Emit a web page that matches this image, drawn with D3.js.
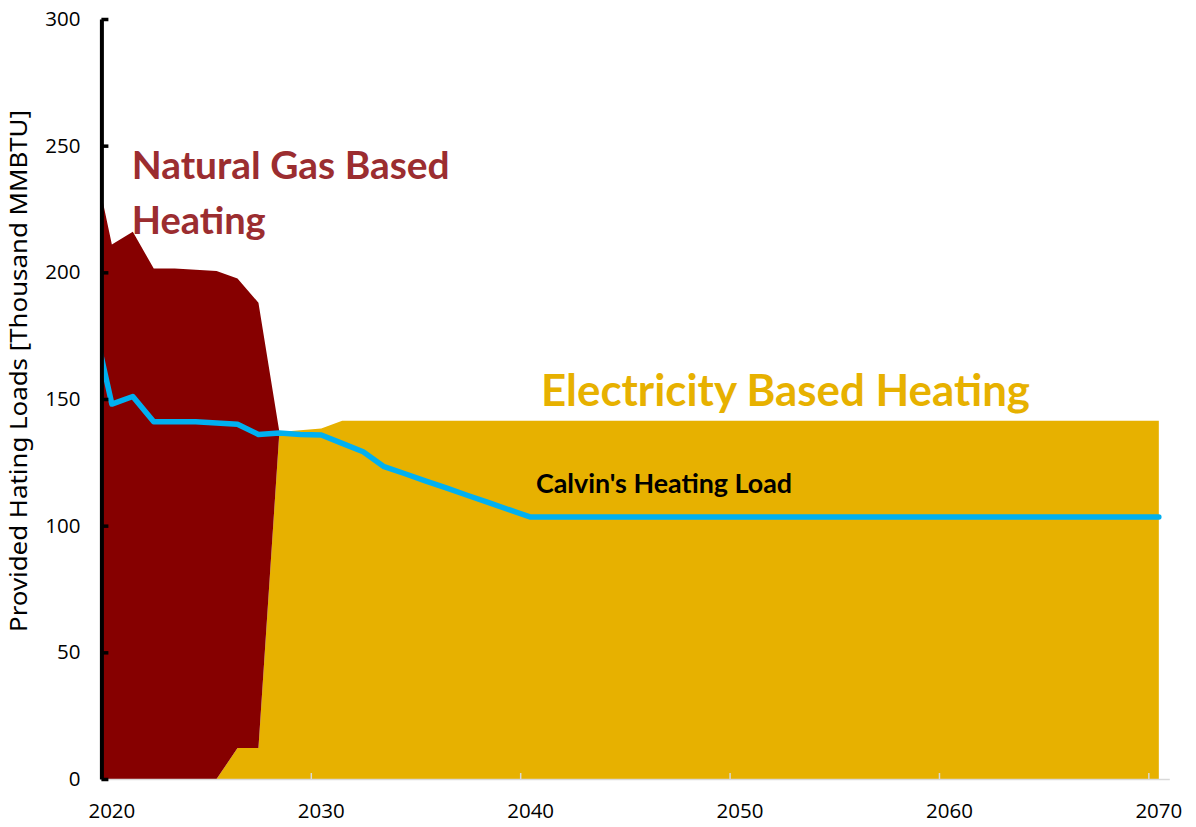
<!DOCTYPE html>
<meta charset="utf-8">
<style>
html, body { margin: 0; background: #fff; }
.axis text { font-family: "Open Sans", "Noto Sans", sans-serif; font-size: 20.5px; fill: #000; }
.label { font-family: Lato, "Open Sans", sans-serif; font-weight: bold; }
</style>
<div id="container"></div>
<script src="https://cdn.jsdelivr.net/npm/d3@7"></script>
<script>

// one value per year, 2019..2070 (2019 sits left of the plot and gets clipped)
var years = d3.range(2019, 2071);

var gasHeating = [250, 211, 216, 201.5, 201.5, 201, 200.5, 185.4, 175.8,
  0, 0, 0, 0, 0, 0, 0, 0, 0, 0,
  0, 0, 0, 0, 0, 0, 0, 0, 0, 0,
  0, 0, 0, 0, 0, 0, 0, 0, 0, 0,
  0, 0, 0, 0, 0, 0, 0, 0, 0, 0,
  0, 0, 0];

var electricHeating = [0, 0, 0, 0, 0, 0, 0, 12.2, 12.2, 137, 137.7, 138.4,
  141.4, 141.4, 141.4, 141.4, 141.4, 141.4, 141.4, 141.4, 141.4, 141.4,
  141.4, 141.4, 141.4, 141.4, 141.4, 141.4, 141.4, 141.4, 141.4, 141.4,
  141.4, 141.4, 141.4, 141.4, 141.4, 141.4, 141.4, 141.4, 141.4, 141.4,
  141.4, 141.4, 141.4, 141.4, 141.4, 141.4, 141.4, 141.4, 141.4, 141.4];

var calvinLoad = [185, 148, 151, 141, 141, 141, 140.5, 140, 136, 136.6, 136,
  135.8, 132.5, 129.2, 123.3, 120.5, 117.6, 114.8, 111.9, 109.1, 106.2,
  103.4, 103.4, 103.4, 103.4, 103.4, 103.4, 103.4, 103.4, 103.4, 103.4,
  103.4, 103.4, 103.4, 103.4, 103.4, 103.4, 103.4, 103.4, 103.4, 103.4,
  103.4, 103.4, 103.4, 103.4, 103.4, 103.4, 103.4, 103.4, 103.4, 103.4,
  103.4];

var yTicks = [0, 50, 100, 150, 200, 250, 300];
var xLabels = [2020, 2030, 2040, 2050, 2060, 2070];

var width = 1196, height = 827;

var svg = d3.select('#container').append('svg')
    .attr('width', width)
    .attr('height', height);

// category style axis: each year owns a slot, ticks sit between slots
var x = d3.scaleLinear().domain([2019.5, 2070.5]).range([101.4, 1169.3]);
var y = d3.scaleLinear().domain([0, 300]).range([779, 19]);

var rows = years.map(function(yr, i) {
  return {year: yr, electric: electricHeating[i], gas: gasHeating[i], load: calvinLoad[i]};
});

var layers = d3.stack().keys(['electric', 'gas'])(rows);
var fills = {electric: '#E7B100', gas: '#860000'};

svg.append('clipPath').attr('id', 'plot')
  .append('rect')
    .attr('x', x.range()[0])
    .attr('y', y(300))
    .attr('width', x.range()[1] - x.range()[0])
    .attr('height', y(0) - y(300));

var g = svg.append('g').attr('clip-path', 'url(#plot)');

var area = d3.area()
    .defined(function(d) { return d[1] > d[0] || d.data.year <= 2028; })
    .x(function(d) { return x(d.data.year); })
    .y0(function(d) { return y(d[0]); })
    .y1(function(d) { return y(d[1]); });

g.selectAll('path.layer')
    .data(layers)
  .join('path')
    .attr('class', 'layer')
    .attr('fill', function(d) { return fills[d.key]; })
    .attr('d', area);

var line = d3.line()
    .x(function(d) { return x(d.year); })
    .y(function(d) { return y(d.load); });

g.append('path')
    .datum(rows)
    .attr('fill', 'none')
    .attr('stroke', '#00B0F0')
    .attr('stroke-width', 5.5)
    .attr('stroke-linejoin', 'round')
    .attr('stroke-linecap', 'round')
    .attr('d', line);

// x axis: grey line, small ticks on slot boundaries, labels on slot centres
var xAxis = svg.append('g')
    .attr('class', 'axis')
    .attr('transform', 'translate(0,' + y(0) + ')')
    .call(d3.axisBottom(x)
      .tickValues(xLabels.map(function(v) { return v - 0.5; }))
      .tickSize(-6)
      .tickSizeOuter(0)
      .tickFormat(''));
xAxis.select('.domain').attr('stroke', '#D9D9D9').attr('stroke-width', 1.5);
xAxis.selectAll('.tick line').attr('stroke', '#D9D9D9').attr('stroke-width', 1.5);

svg.append('g')
    .attr('class', 'axis')
  .selectAll('text')
    .data(xLabels)
  .join('text')
    .attr('x', function(d) { return x(d); })
    .attr('y', 818)
    .attr('text-anchor', 'middle')
    .text(function(d) { return d; });

// y axis: heavy black line with inward ticks
var yAxis = svg.append('g')
    .attr('class', 'axis')
    .attr('transform', 'translate(' + x.range()[0] + ',0)')
    .call(d3.axisLeft(y)
      .tickValues(yTicks)
      .tickSize(-7)
      .tickSizeOuter(0)
      .tickPadding(21));
yAxis.select('.domain').attr('stroke', '#000').attr('stroke-width', 4);
yAxis.selectAll('.tick line').attr('stroke', '#000').attr('stroke-width', 3.5);

svg.append('text')
    .attr('transform', 'translate(27,371) rotate(-90)')
    .attr('text-anchor', 'middle')
    .attr('textLength', 522)
    .attr('lengthAdjust', 'spacingAndGlyphs')
    .style('font-family', '"Noto Sans", "Open Sans", sans-serif')
    .style('font-size', '23px')
    .style('fill', '#000')
    .text('Provided Hating Loads [Thousand MMBTU]');

// in-chart labels
function label(txt, lx, ly, size, len, color) {
  svg.append('text')
      .attr('class', 'label')
      .attr('x', lx)
      .attr('y', ly)
      .attr('textLength', len)
      .attr('lengthAdjust', 'spacingAndGlyphs')
      .style('font-size', size + 'px')
      .style('fill', color)
      .text(txt);
}

label('Natural Gas Based', 131.7, 179.3, 38.5, 318, '#9B2D30');
label('Heating', 131.7, 234.3, 38.5, 134, '#9B2D30');
label('Electricity Based Heating', 541, 406, 43, 489, '#E7B100');
label("Calvin's Heating Load", 536, 493, 26, 256, '#000');

</script>
